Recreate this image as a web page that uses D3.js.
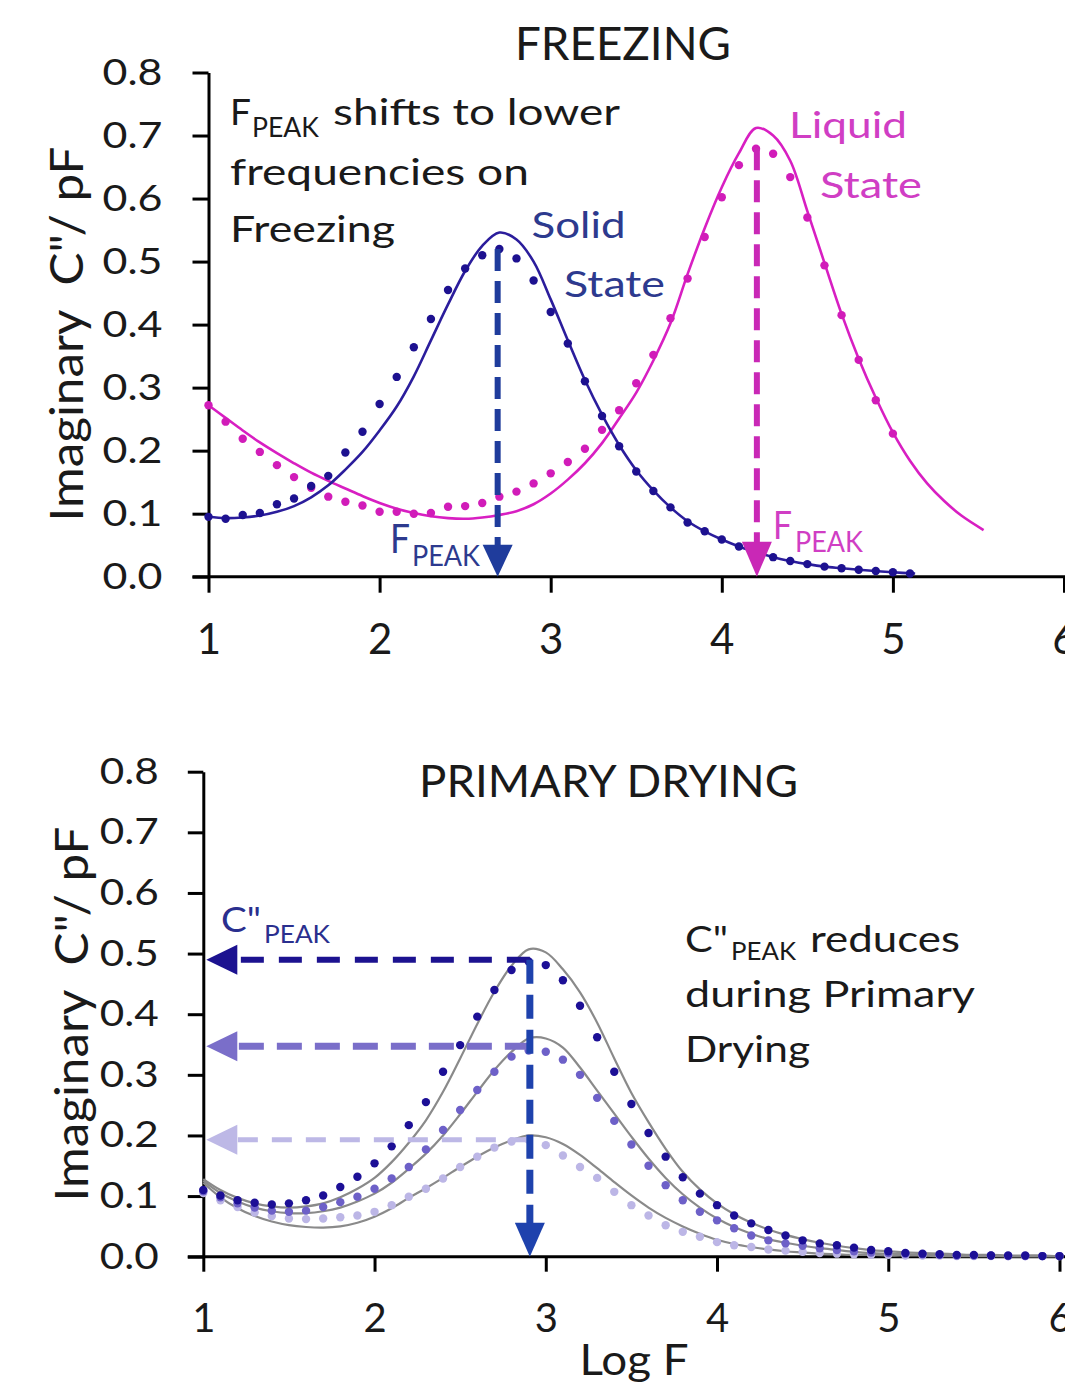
<!DOCTYPE html>
<html><head><meta charset="utf-8">
<script src="https://cdn.jsdelivr.net/npm/d3@7"></script>
<style>
html,body{margin:0;padding:0;background:#fff;}
svg{display:block;}
text{font-family:Lato,"Open Sans","DejaVu Sans",sans-serif;}
</style></head>
<body>
<svg id="chart" width="1065" height="1389"></svg>
<script>
// ---------- shared axis data ----------
const xTicks = [1, 2, 3, 4, 5, 6];
const yTicks = [0, 0.1, 0.2, 0.3, 0.4, 0.5, 0.6, 0.7, 0.8];
const yTickLabels = ["0.0","0.1","0.2","0.3","0.4","0.5","0.6","0.7","0.8"];
const logF = [1.0,1.1,1.2,1.3,1.4,1.5,1.6,1.7,1.8,1.9,2.0,2.1,2.2,2.3,2.4,2.5,2.6,2.7,2.8,2.9,
              3.0,3.1,3.2,3.3,3.4,3.5,3.6,3.7,3.8,3.9,4.0,4.1,4.2,4.3,4.4,4.5,4.6,4.7,4.8,4.9,
              5.0,5.1,5.2,5.3,5.4,5.5,5.6,5.7,5.8,5.9,6.0];

// ---------- FREEZING panel ----------
const solidDots = [0.095,0.092,0.098,0.101,0.115,0.124,0.144,0.160,0.197,0.230,
                   0.274,0.317,0.364,0.409,0.455,0.489,0.510,0.520,0.505,0.470,
                   0.420,0.370,0.310,0.255,0.207,0.167,0.136,0.110,0.086,0.072,
                   0.059,0.048,0.039,0.031,0.025,0.020,0.016,0.0135,0.011,0.009,
                   0.007,0.005];
const solidFitX = [1.0,1.1,1.2,1.3,1.4,1.5,1.6,1.7,1.8,1.9,2.0,2.1,2.2,2.3,2.4,2.5,2.6,2.7,2.8,2.9,
                   3.0,3.1,3.2,3.3,3.4,3.5,3.6,3.7,3.8,3.9,4.0,4.1,4.2,4.3,4.4,4.5,4.6,4.7,4.8,4.9,5.0,5.13];
const solidFitY = [0.095,0.093,0.094,0.097,0.103,0.112,0.126,0.145,0.170,0.198,
                   0.232,0.270,0.318,0.375,0.432,0.485,0.525,0.546,0.535,0.500,
                   0.440,0.375,0.312,0.257,0.209,0.169,0.137,0.110,0.088,0.072,
                   0.059,0.048,0.039,0.031,0.025,0.020,0.016,0.0135,0.011,0.009,0.007,0.005];
const liquidDots = [0.272,0.246,0.219,0.198,0.177,0.158,0.141,0.127,0.119,0.113,
                    0.103,0.103,0.100,0.101,0.111,0.112,0.117,0.127,0.135,0.148,
                    0.164,0.182,0.203,0.233,0.264,0.307,0.352,0.410,0.473,0.539,
                    0.602,0.653,0.679,0.671,0.634,0.570,0.494,0.415,0.344,0.280,
                    0.227];
const liquidFitX = [1.0,1.1,1.2,1.3,1.4,1.5,1.6,1.7,1.8,1.9,2.0,2.1,2.2,2.3,2.4,2.5,2.6,2.7,2.8,2.9,
                    3.0,3.1,3.2,3.3,3.4,3.5,3.6,3.7,3.8,3.9,4.0,4.1,4.2,4.3,4.4,4.5,4.6,4.7,4.8,4.9,
                    5.0,5.1,5.2,5.3,5.4,5.53];
const liquidFitY = [0.272,0.252,0.232,0.213,0.196,0.180,0.165,0.152,0.140,0.128,
                    0.117,0.108,0.101,0.096,0.093,0.092,0.094,0.098,0.104,0.115,
                    0.132,0.154,0.180,0.212,0.251,0.292,0.343,0.402,0.480,0.553,
                    0.618,0.672,0.712,0.700,0.660,0.580,0.498,0.417,0.346,0.284,
                    0.229,0.184,0.148,0.120,0.097,0.074];
const solidPeakF = 2.69, solidPeakTop = 0.52;
const liquidPeakF = 4.205, liquidPeakTop = 0.68;

// ---------- PRIMARY DRYING panel ----------
const dryDark = [0.110,0.101,0.093,0.089,0.086,0.088,0.093,0.101,0.115,0.132,
                 0.154,0.182,0.217,0.255,0.305,0.349,0.396,0.440,0.473,0.487,
                 0.481,0.456,0.414,0.362,0.305,0.252,0.204,0.165,0.131,0.104,
                 0.085,0.068,0.055,0.044,0.035,0.027,0.022,0.019,0.015,0.011,
                 0.009,0.006,0.005,0.004,0.003,0.003,0.002,0.002,0.002,0.001,0.001];
const dryMid = [0.108,0.098,0.088,0.081,0.076,0.074,0.076,0.082,0.090,0.099,
                0.112,0.129,0.148,0.177,0.209,0.242,0.275,0.305,0.330,0.340,
                0.338,0.325,0.300,0.262,0.224,0.185,0.150,0.118,0.093,0.074,
                0.060,0.047,0.035,0.027,0.022,0.018,0.014,0.011,0.009,0.007,
                0.006,0.005,0.004,0.003,0.002,0.002,0.002,0.001,0.001,0.001,0.001];
const dryLight = [0.105,0.093,0.082,0.073,0.067,0.063,0.062,0.063,0.065,0.068,
                  0.074,0.085,0.099,0.112,0.129,0.148,0.165,0.180,0.190,0.193,
                  0.184,0.167,0.148,0.130,0.107,0.085,0.068,0.052,0.041,0.033,
                  0.024,0.019,0.016,0.012,0.010,0.008,0.006,0.005,0.004,0.003,
                  0.003,0.002,0.002,0.002,0.001,0.001,0.001,0.001,0.001,0.001,0.001];
const fitDark = [0.128,0.110,0.097,0.088,0.083,0.081,0.083,0.088,0.098,0.112,
                 0.130,0.156,0.188,0.225,0.272,0.327,0.384,0.437,0.480,0.507,
                 0.502,0.474,0.436,0.386,0.327,0.270,0.222,0.178,0.140,0.111,
                 0.088,0.070,0.056,0.045,0.036,0.029,0.023,0.018,0.014,0.011,
                 0.009,0.007,0.006,0.005,0.004,0.003,0.003,0.002,0.002,0.002,0.001];
const fitMid = [0.125,0.105,0.091,0.081,0.075,0.072,0.072,0.075,0.081,0.091,
                0.104,0.122,0.145,0.170,0.200,0.235,0.272,0.308,0.338,0.360,
                0.360,0.345,0.312,0.274,0.236,0.198,0.162,0.130,0.103,0.081,
                0.063,0.049,0.038,0.029,0.023,0.018,0.014,0.011,0.008,0.006,
                0.005,0.004,0.003,0.003,0.002,0.002,0.002,0.001,0.001,0.001,0.001];
const fitLight = [0.122,0.098,0.080,0.067,0.058,0.052,0.049,0.048,0.050,0.056,
                  0.066,0.080,0.097,0.113,0.130,0.148,0.165,0.180,0.192,0.200,
                  0.197,0.186,0.168,0.146,0.123,0.101,0.081,0.064,0.050,0.038,
                  0.028,0.021,0.016,0.012,0.009,0.007,0.005,0.004,0.003,0.003,
                  0.002,0.002,0.002,0.001,0.001,0.001,0.001,0.001,0.001,0.001,0.001];
const cPeakLevels = [0.490, 0.347, 0.193];
const dryPeakF = 2.907;

// ---------- drawing ----------
const svg = d3.select('#chart');
const INK = '#1a1a1a';
const NAVY_TXT = '#2d3a8e', MAG_TXT = '#d03ec4';

function drawAxes(g, xs, ys, o) {
  const yAx = d3.axisLeft(ys).tickValues(yTicks).tickFormat((d, i) => yTickLabels[i])
    .tickSizeInner(o.ytick).tickSizeOuter(0).tickPadding(o.ypad);
  const xAx = d3.axisBottom(xs).tickValues(xTicks).tickFormat(d3.format('d'))
    .tickSizeInner(o.xtick).tickSizeOuter(0).tickPadding(o.xpad);
  const gx = g.append('g').attr('transform', `translate(0,${ys(0)})`).call(xAx);
  const gy = g.append('g').attr('transform', `translate(${xs(1)},0)`).call(yAx);
  gx.select('.domain').attr('d', `M${xs(1) - o.ytick},0H1065`);
  [gx, gy].forEach(a => {
    a.selectAll('path,line').attr('stroke', '#000').attr('stroke-width', 3);
    a.selectAll('text').attr('fill', INK).style('font-family', 'Lato, sans-serif');
  });
  gy.selectAll('text').attr('font-size', o.yfs).attr('textLength', o.ylen).attr('lengthAdjust', 'spacingAndGlyphs');
  gx.selectAll('text').attr('font-size', o.xfs);
}

// one piece of text, stretched to the width measured on the reference
function txt(x, y, str, size, width, fill, anchor) {
  const t = svg.append('text').attr('x', x).attr('y', y).attr('fill', fill)
    .attr('font-size', size).style('white-space', 'pre').text(str);
  if (width) t.attr('textLength', width).attr('lengthAdjust', 'spacingAndGlyphs');
  if (anchor) t.attr('text-anchor', anchor);
  return t;
}

function line(xs, ys, X, Y) {
  return d3.line().x((d, i) => xs(X[i])).y(d => ys(d)).curve(d3.curveCatmullRom.alpha(0.5))(Y);
}

function dots(g, xs, ys, Y, color, r) {
  g.append('g').selectAll('circle').data(Y).join('circle')
    .attr('cx', (d, i) => xs(logF[i])).attr('cy', d => ys(d)).attr('r', r).attr('fill', color);
}

function vArrow(g, xs, ys, f, top, color, w, dash, hw, hh) {
  const x = xs(f), tip = ys(0);
  g.append('line').attr('x1', x).attr('x2', x).attr('y1', ys(top)).attr('y2', tip - hh + 2)
    .attr('stroke', color).attr('stroke-width', w).attr('stroke-dasharray', dash);
  g.append('path').attr('d', `M${x - hw / 2},${tip - hh}L${x + hw / 2},${tip - hh}L${x},${tip}Z`).attr('fill', color);
}
function hArrow(g, xs, ys, f, level, color, w, dash, hw, hh) {
  const y = ys(level), tip = xs(1) + 3;
  g.append('line').attr('x1', xs(f)).attr('x2', tip + hw - 2).attr('y1', y).attr('y2', y)
    .attr('stroke', color).attr('stroke-width', w).attr('stroke-dasharray', dash);
  g.append('path').attr('d', `M${tip + hw},${y - hh / 2}L${tip + hw},${y + hh / 2}L${tip},${y}Z`).attr('fill', color);
}

// ===== Top panel =====
const xT = d3.scaleLinear([1, 6], [208.5, 1064]);
const yT = d3.scaleLinear([0, 0.8], [576.7, 72.5]);
const gT = svg.append('g');
drawAxes(gT, xT, yT, {ytick: 16, ypad: 30, xtick: 16, xpad: 31, yfs: 37, xfs: 42, ylen: 60});

gT.append('path').attr('d', line(xT, yT, liquidFitX, liquidFitY))
  .attr('fill', 'none').attr('stroke', '#d81fc2').attr('stroke-width', 2.6);
gT.append('path').attr('d', line(xT, yT, solidFitX, solidFitY))
  .attr('fill', 'none').attr('stroke', '#2b1d9c').attr('stroke-width', 2.6);
dots(gT, xT, yT, liquidDots, '#d11cb9', 4.2);
dots(gT, xT, yT, solidDots, '#1d1190', 4.2);

vArrow(gT, xT, yT, solidPeakF, solidPeakTop, '#1f3c9c', 6, '22,10', 30, 32);
vArrow(gT, xT, yT, liquidPeakF, liquidPeakTop, '#c928b6', 6, '22,10', 30, 35);

txt(515, 60, 'FREEZING', 46, 216, INK);
txt(230, 125, 'F', 37, 21, INK);
txt(252, 136.5, 'PEAK', 27, 67, INK);
txt(333, 125, 'shifts to lower', 37, 287, INK);
txt(230, 185, 'frequencies on', 37, 299, INK);
txt(230, 242, 'Freezing', 37, 165, INK);
txt(531.5, 238, 'Solid', 37, 94, NAVY_TXT);
txt(564, 297, 'State', 37, 101, NAVY_TXT);
txt(789, 138, 'Liquid', 37, 118, MAG_TXT);
txt(820, 198, 'State', 37, 102, MAG_TXT);
txt(390, 553, 'F', 41, 20, NAVY_TXT);
txt(412, 566, 'PEAK', 29, 68, NAVY_TXT);
txt(773, 539, 'F', 39, 19, MAG_TXT);
txt(795, 552, 'PEAK', 29, 68, MAG_TXT);
txt(83, 334, 'Imaginary  C"/ pF', 46, 375, INK, 'middle').attr('transform', 'rotate(-90 83 334)');

// ===== Bottom panel =====
const xB = d3.scaleLinear([1, 6], [203.3, 1059.5]);
const yB = d3.scaleLinear([0, 0.8], [1256.7, 771.7]);
const gB = svg.append('g');
drawAxes(gB, xB, yB, {ytick: 15.5, ypad: 29, xtick: 15, xpad: 32, yfs: 36, xfs: 40, ylen: 59});

[fitLight, fitMid, fitDark].forEach(Y => {
  gB.append('path').attr('d', line(xB, yB, logF, Y)).attr('fill', 'none')
    .attr('stroke', '#8a8a8a').attr('stroke-width', 2.2);
});
dots(gB, xB, yB, dryLight, '#bcb6e6', 4.2);
dots(gB, xB, yB, dryMid, '#6d60c8', 4.2);
dots(gB, xB, yB, dryDark, '#1c0f96', 4.2);

hArrow(gB, xB, yB, dryPeakF, cPeakLevels[2], '#bdb8e6', 5, '20,14', 31, 30);
hArrow(gB, xB, yB, dryPeakF, cPeakLevels[1], '#7a6ec9', 7, '25,13', 31, 30);
hArrow(gB, xB, yB, dryPeakF, cPeakLevels[0], '#1c1290', 6, '23,15', 31, 30);
vArrow(gB, xB, yB, dryPeakF, cPeakLevels[0], '#1e42ad', 7, '24,11', 30, 34);

txt(419, 797, 'PRIMARY DRYING', 45, 379, INK);
txt(221, 932, 'C"', 34, 40, '#2a2f8e');
txt(264, 943, 'PEAK', 25, 66, '#2a2f8e');
txt(685, 952, 'C"', 37, 43, INK);
txt(731, 960, 'PEAK', 25, 65, INK);
txt(810, 952, 'reduces', 37, 150, INK);
txt(685, 1007, 'during Primary', 37, 290, INK);
txt(685, 1062, 'Drying', 37, 125, INK);
txt(634, 1375, 'Log F', 42, 109, INK, 'middle');
txt(88, 1014, 'Imaginary  C"/ pF', 46, 375, INK, 'middle').attr('transform', 'rotate(-90 88 1014)');
</script>
</body></html>
